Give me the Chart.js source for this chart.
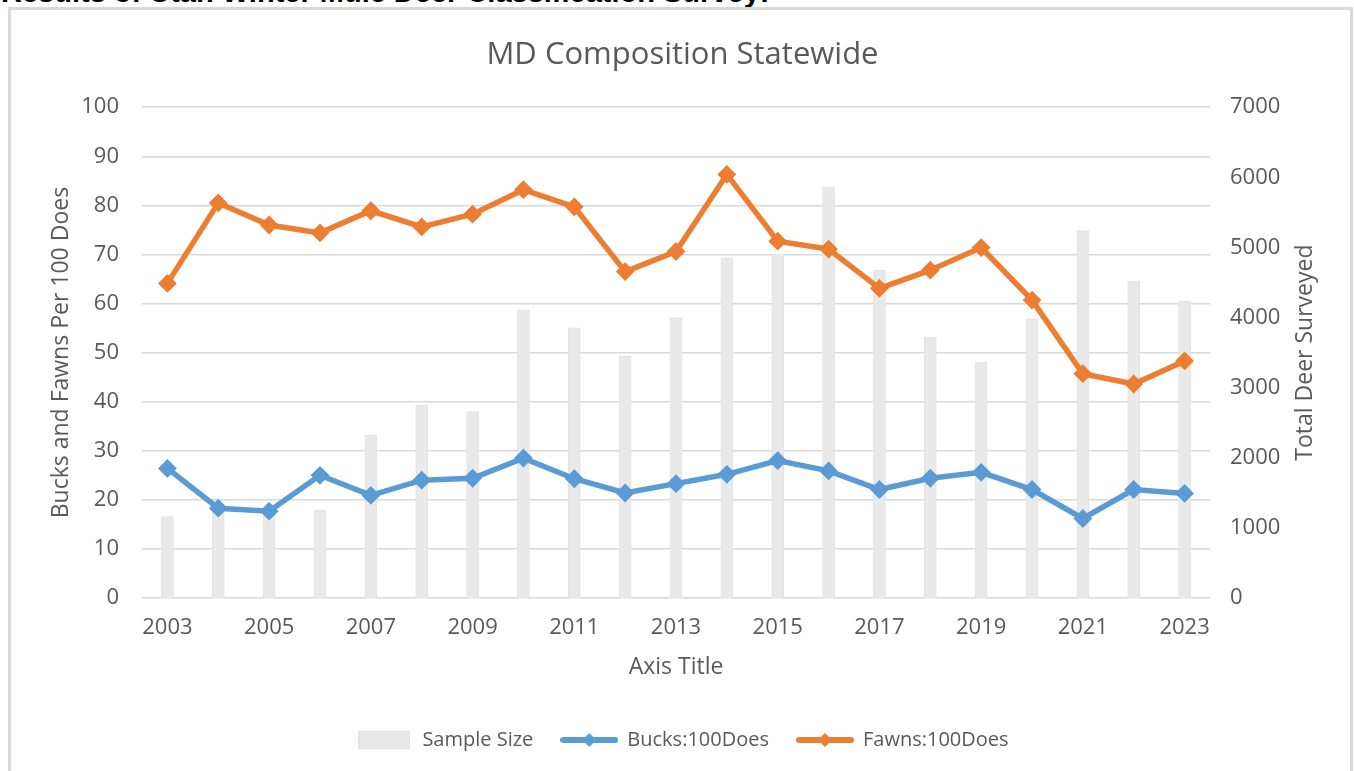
<!DOCTYPE html>
<html>
<head>
<meta charset="utf-8">
<script src="https://cdn.jsdelivr.net/npm/chart.js@4.4.0/dist/chart.umd.min.js"></script>
<style>
  html, body { margin: 0; padding: 0; background: #fff; overflow: hidden; }
  body { width: 1354px; height: 771px; position: relative; }
  #heading { position: absolute; left: 1px; top: -22px; font: bold 29px/29px "Liberation Sans", Arial, sans-serif; color: #000; white-space: nowrap; }
  #frame { position: absolute; left: 8px; top: 7px; width: 1345px; height: 800px; border: 3px solid #d9d9d9; box-sizing: border-box; background: #fff; }
  #wrap { position: absolute; left: 0; top: 0; width: 1354px; height: 771px; }
</style>
</head>
<body>
<div id="heading">Results of Utah Winter Mule Deer Classification Survey:</div>
<div id="frame"></div>
<div id="wrap"><canvas id="deerChart"></canvas></div>
<script>
// values
const years = ["2003", "2004", "2005", "2006", "2007", "2008", "2009", "2010", "2011", "2012", "2013",
    "2014", "2015", "2016", "2017", "2018", "2019", "2020", "2021", "2022", "2023"];
const sampleSize = [1160, 1230, 1180, 1257, 2320, 2755, 2660, 4110, 3855, 3450, 4000,
    4850, 4910, 5865, 4675, 3725, 3360, 3980, 5240, 4525, 4235];
const bucks = [26.4, 18.3, 17.7, 25.0, 20.9, 24.0, 24.4, 28.5, 24.3, 21.4, 23.3,
    25.2, 28.0, 25.9, 22.1, 24.4, 25.6, 22.1, 16.2, 22.1, 21.3];
const fawns = [64.1, 80.5, 76.0, 74.4, 78.9, 75.6, 78.2, 83.2, 79.7, 66.5, 70.6,
    86.3, 72.7, 71.1, 63.1, 66.8, 71.4, 60.7, 45.7, 43.6, 48.3];
const leftTicks = [0, 10, 20, 30, 40, 50, 60, 70, 80, 90, 100];
const rightTicks = [0, 1000, 2000, 3000, 4000, 5000, 6000, 7000];

const textColor = '#595959';
const gridColor = '#d9d9d9';
const blue = '#5b9bd5';
const orange = '#ed7d31';
const barGray = '#e9e9e9';
const fontFamily = '"Open Sans", "Noto Sans", sans-serif';

// little legend icons: gray box and line-with-diamond
function makeBoxIcon() {
    const c = document.createElement('canvas');
    c.width = 52; c.height = 18;
    const g = c.getContext('2d');
    g.fillStyle = barGray;
    g.fillRect(0, 0, 52, 18);
    g.strokeStyle = '#e0e0e0';
    g.strokeRect(0.5, 0.5, 51, 17);
    return c;
}
function makeLineIcon(color) {
    const c = document.createElement('canvas');
    c.width = 58; c.height = 18;
    const g = c.getContext('2d');
    g.strokeStyle = color;
    g.lineWidth = 6;
    g.lineCap = 'round';
    g.beginPath(); g.moveTo(3, 9); g.lineTo(55, 9); g.stroke();
    g.fillStyle = color;
    g.beginPath(); g.moveTo(29, 2); g.lineTo(36, 9); g.lineTo(29, 16); g.lineTo(22, 9); g.closePath(); g.fill();
    return c;
}
const legendIcons = [makeBoxIcon(), makeLineIcon(blue), makeLineIcon(orange)];

// right axis title reads bottom-to-top like Excel's, so draw it here
const rightTitle = {
    id: 'rightTitle',
    afterDraw(chart) {
        const ctx = chart.ctx;
        const area = chart.chartArea;
        ctx.save();
        ctx.translate(1305, (area.top + area.bottom) / 2);
        ctx.rotate(-Math.PI / 2);
        ctx.fillStyle = textColor;
        ctx.font = '23px ' + fontFamily;
        ctx.textAlign = 'center';
        ctx.textBaseline = 'middle';
        ctx.fillText('Total Deer Surveyed', 0, 0);
        ctx.restore();
    }
};

const data = {
    labels: years,
    datasets: [{
        type: 'bar',
        label: 'Sample Size',
        data: sampleSize,
        yAxisID: 'y1',
        backgroundColor: barGray,
        borderColor: '#e2e2e2',
        borderWidth: 1,
        barThickness: 12,
        order: 3
    },
    {
        type: 'line',
        label: 'Bucks:100Does',
        data: bucks,
        yAxisID: 'y',
        borderColor: blue,
        backgroundColor: blue,
        borderWidth: 5.5,
        pointStyle: 'rectRot',
        pointRadius: 8,
        pointBorderWidth: 2,
        tension: 0,
        order: 2
    },
    {
        type: 'line',
        label: 'Fawns:100Does',
        data: fawns,
        yAxisID: 'y',
        borderColor: orange,
        backgroundColor: orange,
        borderWidth: 5.5,
        pointStyle: 'rectRot',
        pointRadius: 8,
        pointBorderWidth: 2,
        tension: 0,
        order: 1
    }]
};

const config = {
    data: data,
    plugins: [rightTitle],
    options: {
        responsive: false,
        animation: false,
        devicePixelRatio: 1,
        layout: { padding: { left: 40, right: 29, top: 0, bottom: 11 } },
        plugins: {
            tooltip: { enabled: false },
            title: {
                display: true,
                text: 'MD Composition Statewide',
                color: textColor,
                font: { family: fontFamily, size: 31, weight: 'normal' },
                padding: { top: 37, bottom: 33 }
            },
            legend: {
                position: 'bottom',
                maxHeight: 70,
                labels: {
                    usePointStyle: true,
                    pointStyleWidth: 56,
                    padding: 28,
                    color: textColor,
                    font: { family: fontFamily, size: 20 },
                    sort: (a, b) => a.datasetIndex - b.datasetIndex,
                    generateLabels: (chart) => Chart.defaults.plugins.legend.labels.generateLabels(chart)
                        .map(item => ({ ...item, pointStyle: legendIcons[item.datasetIndex] }))
                }
            }
        },
        scales: {
            x: {
                grid: { display: false, drawTicks: false },
                border: { display: false },
                ticks: {
                    autoSkip: false,
                    maxRotation: 0,
                    padding: 17,
                    color: textColor,
                    font: { family: fontFamily, size: 22 },
                    callback: (v, i) => i % 2 === 0 ? years[i] : ''
                },
                title: {
                    display: true,
                    text: 'Axis Title',
                    color: textColor,
                    font: { family: fontFamily, size: 23 },
                    padding: { top: 0, bottom: 21 }
                },
                afterFit: (scale) => { scale.height = 104; }
            },
            y: {
                position: 'left',
                min: 0,
                max: 100,
                afterBuildTicks: (scale) => { scale.ticks = leftTicks.map(v => ({ value: v })); },
                grid: { color: gridColor, lineWidth: 1.5, drawTicks: false },
                border: { display: false },
                ticks: { padding: 23, color: textColor, font: { family: fontFamily, size: 22 } },
                title: {
                    display: true,
                    text: 'Bucks and Fawns Per 100 Does',
                    color: textColor,
                    font: { family: fontFamily, size: 23 },
                    padding: { top: 8, bottom: 0 }
                },
                afterFit: (scale) => { scale.width = 102; }
            },
            y1: {
                position: 'right',
                min: 0,
                max: 7000,
                afterBuildTicks: (scale) => { scale.ticks = rightTicks.map(v => ({ value: v })); },
                grid: { display: false, drawTicks: false },
                border: { display: false },
                ticks: {
                    padding: 20,
                    color: textColor,
                    font: { family: fontFamily, size: 22 },
                    callback: (v) => String(v)
                },
                afterFit: (scale) => { scale.width = 115; }
            }
        }
    }
};

const canvas = document.getElementById('deerChart');
canvas.width = 1354;
canvas.height = 771;
new Chart(canvas.getContext('2d'), config);
</script>
</body>
</html>
